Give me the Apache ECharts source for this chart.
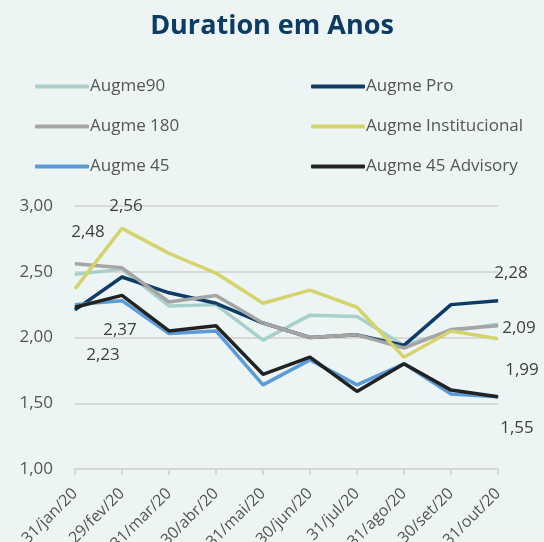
<!DOCTYPE html>
<html>
<head>
<meta charset="utf-8">
<script src="https://cdn.jsdelivr.net/npm/echarts@6/dist/echarts.min.js"></script>
<style>
  html, body { margin: 0; padding: 0; background: #edf5f4; }
  #chart { width: 544px; height: 542px; }
</style>
</head>
<body>
<div id="chart"></div>
<script>
// datas (fim de mês, 2020)
const categories = ['31/jan/20', '29/fev/20', '31/mar/20', '30/abr/20', '31/mai/20',
  '30/jun/20', '31/jul/20', '31/ago/20', '30/set/20', '31/out/20']
const augme90 = [2.48, 2.52, 2.24, 2.25, 1.98, 2.17, 2.16, 1.94, 2.05, 2.10]
const augmePro = [2.21, 2.46, 2.34, 2.26, 2.11, 2.00, 2.02, 1.94, 2.25, 2.28]
const augme180 = [2.56, 2.53, 2.27, 2.32, 2.11, 2.00, 2.02, 1.92, 2.06, 2.09]
const augmeInst = [2.37, 2.83, 2.64, 2.49, 2.26, 2.36, 2.23, 1.85, 2.05, 1.99]
const augme45 = [2.25, 2.28, 2.03, 2.05, 1.64, 1.83, 1.64, 1.80, 1.57, 1.55]
const augme45Adv = [2.23, 2.32, 2.05, 2.09, 1.72, 1.85, 1.59, 1.80, 1.60, 1.55]
const yTicks = { min: 1, max: 3, interval: 0.5 }

const fmt = v => v.toFixed(2).replace('.', ',')
const font = "'Open Sans', sans-serif"

// rótulo no primeiro / último ponto (offset em px a partir do ponto)
function buildData(values, first, last) {
  return values.map((v, i) => {
    let off = null
    if (i === 0 && first) off = first
    if (i === values.length - 1 && last) off = last
    if (!off) return v
    return {
      value: v,
      label: {
        show: true,
        position: 'inside',
        offset: off,
        formatter: p => fmt(p.value),
        color: '#404040',
        fontSize: 17,
        fontFamily: font,
        align: 'center',
        verticalAlign: 'middle'
      }
    }
  })
}

function line(name, color, values, first, last) {
  return {
    name: name,
    type: 'line',
    data: buildData(values, first, last),
    symbol: 'circle',
    symbolSize: 1,
    itemStyle: { color: color },
    lineStyle: { color: color, width: 3.5 },
    emphasis: { disabled: true }
  }
}

const chart = echarts.init(document.getElementById('chart'))

const legendBase = {
  orient: 'vertical',
  top: 73,
  itemWidth: 54,
  itemHeight: 4,
  itemGap: 23,
  icon: 'roundRect',
  textStyle: { color: '#555', fontSize: 17, fontFamily: font, padding: [0, 0, 0, -4] },
  selectedMode: false
}

chart.setOption({
  backgroundColor: '#edf5f4',
  animation: false,
  title: {
    text: 'Duration em Anos',
    left: 'center',
    top: 8,
    textStyle: { color: '#0e3b63', fontSize: 27, fontWeight: 'bold', fontFamily: font }
  },
  legend: [
    Object.assign({}, legendBase, { left: 30, data: ['Augme90', 'Augme 180', 'Augme 45'] }),
    Object.assign({}, legendBase, { left: 306, data: ['Augme Pro', 'Augme Institucional', 'Augme 45 Advisory'] })
  ],
  grid: { left: 75, right: 46, top: 206, bottom: 73, containLabel: false, outerBoundsMode: 'none' },
  xAxis: {
    type: 'category',
    data: categories,
    boundaryGap: false,
    axisLine: { lineStyle: { color: '#d6d6d6', width: 2 } },
    axisTick: { show: true, length: 6, lineStyle: { color: '#d6d6d6', width: 2 } },
    axisLabel: { rotate: 45, color: '#555', fontSize: 16, fontFamily: font, margin: 22 }
  },
  yAxis: {
    type: 'value',
    min: yTicks.min,
    max: yTicks.max,
    interval: yTicks.interval,
    axisLine: { show: false },
    axisTick: { show: false },
    splitLine: { lineStyle: { color: '#d9d9d9', width: 2 } },
    axisLabel: { formatter: v => fmt(v), color: '#555', fontSize: 17, fontFamily: font, margin: 22 }
  },
  series: [
    line('Augme90', '#a9cfcb', augme90, [13, -42], null),
    line('Augme Pro', '#0f3c64', augmePro, null, [13, -28]),
    line('Augme 180', '#a5a5a5', augme180, [51, -58], [21, 2]),
    line('Augme Institucional', '#d5d46c', augmeInst, [45, 41], [24, 31]),
    line('Augme 45', '#5b9bd8', augme45, null, null),
    line('Augme 45 Advisory', '#222222', augme45Adv, [28, 48], [19, 31])
  ]
})

window.addEventListener('resize', () => chart.resize())
</script>
</body>
</html>
